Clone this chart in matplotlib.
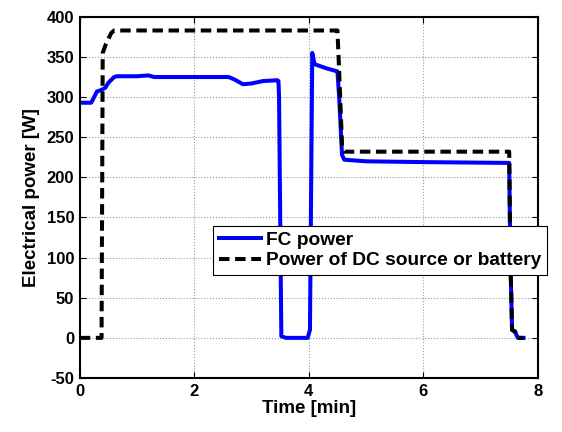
import matplotlib
matplotlib.use("Agg")
import matplotlib.pyplot as plt

plt.rcParams["font.family"] = ["Liberation Sans", "DejaVu Sans"]
plt.rcParams["font.weight"] = "bold"
plt.rcParams["axes.unicode_minus"] = False

# FC power [W] vs time [min]
fc_t = [0.0, 0.2, 0.3, 0.38, 0.45, 0.5, 0.6, 0.65, 1.0, 1.2, 1.3, 2.0, 2.6, 2.7, 2.85,
        3.0, 3.2, 3.45, 3.47, 3.48, 3.52, 3.6, 3.98, 4.02, 4.06, 4.1, 4.3, 4.5,
        4.53, 4.58, 4.62, 5.0, 6.0, 7.5, 7.52, 7.55, 7.6, 7.65, 7.75]
fc_p = [293, 293, 307, 309, 312, 318, 325, 326, 326, 327, 325, 325, 325, 322, 316,
        317, 320, 321, 320, 300, 2, 0, 0, 10, 355, 341, 336, 332,
        300, 228, 222, 220, 219, 218, 100, 10, 8, 0, 0]

# Power of DC source or battery [W]
dc_t = [0.0, 0.38, 0.4, 0.45, 0.55, 0.6, 1.0, 2.0, 3.0, 4.0, 4.5, 4.52, 4.58, 4.62,
        5.0, 6.0, 7.5, 7.52, 7.55, 7.6, 7.65, 7.75]
dc_p = [0, 0, 355, 365, 380, 383, 383, 383, 383, 383, 383, 350, 240, 232,
        232, 232, 232, 100, 10, 8, 0, 0]

fig = plt.figure(figsize=(5.62, 4.32), dpi=100)
ax = fig.add_axes([0.142, 0.125, 0.815, 0.836])

ax.plot(fc_t, fc_p, color="#0000ff", lw=2.9, label="FC power")
ax.plot(dc_t, dc_p, color="black", lw=2.9, ls=(0, (2.6, 1.4)), label="Power of DC source or battery")

ax.set_xlim(0, 8)
ax.set_ylim(-50, 400)
ax.set_xticks([0, 2, 4, 6, 8])
ax.set_yticks(range(-50, 401, 50))
ax.grid(True, color="#999999", ls=":", lw=0.8)
ax.tick_params(direction="in", top=True, right=True, labelsize=12, width=0.8, length=4, pad=4)
for lab in ax.get_xticklabels() + ax.get_yticklabels():
    lab.set_fontweight("bold")
for s in ax.spines.values():
    s.set_linewidth(1.5)

ax.set_xlabel("Time [min]", fontsize=13.5, fontweight="bold", labelpad=1)
ax.set_ylabel("Electrical power [W]", fontsize=13.5, fontweight="bold", labelpad=5)

leg = ax.legend(loc="upper left", bbox_to_anchor=(0.379, 0.477), bbox_transform=fig.transFigure,
                fancybox=False, framealpha=1, edgecolor="black",
                prop={"weight": "bold", "size": 13.8},
                handlelength=2.2, borderpad=0.3, labelspacing=0.15, handletextpad=0.26,
                borderaxespad=0)
leg.get_frame().set_linewidth(0.8)

fig.savefig("out.png", dpi=100, facecolor="white")
